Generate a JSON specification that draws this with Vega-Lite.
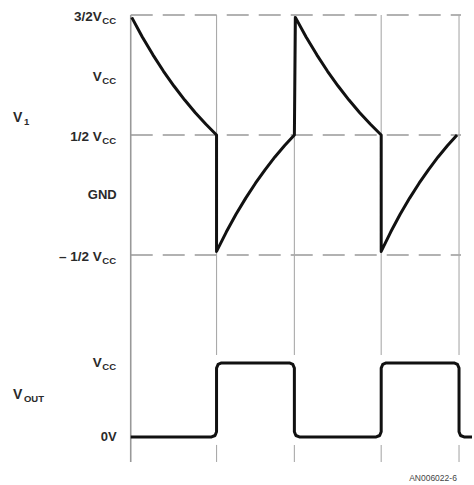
{
  "$schema": "https://vega.github.io/schema/vega-lite/v6.json",
  "width": 474,
  "height": 485,
  "autosize": {"type": "fit", "contains": "padding"},
  "padding": 0,
  "background": "white",
  "config": {"view": {"stroke": null}},
  "datasets": {
    "v1": [
      {"i": 1, "t": 1, "v": 1.48}, {"i": 2, "t": 11.625, "v": 1.317}, {"i": 3, "t": 22.25, "v": 1.168},
      {"i": 4, "t": 32.875, "v": 1.031}, {"i": 5, "t": 43.5, "v": 0.906}, {"i": 6, "t": 54.125, "v": 0.791},
      {"i": 7, "t": 64.75, "v": 0.685}, {"i": 8, "t": 75.375, "v": 0.589}, {"i": 9, "t": 86, "v": 0.5},
      {"i": 10, "t": 86, "v": -0.47}, {"i": 11, "t": 95.75, "v": -0.309}, {"i": 12, "t": 105.5, "v": -0.161},
      {"i": 13, "t": 115.25, "v": -0.026}, {"i": 14, "t": 125, "v": 0.098}, {"i": 15, "t": 134.75, "v": 0.212},
      {"i": 16, "t": 144.5, "v": 0.317}, {"i": 17, "t": 154.25, "v": 0.412}, {"i": 18, "t": 164, "v": 0.5},
      {"i": 19, "t": 165, "v": 1.48}, {"i": 20, "t": 175.75, "v": 1.317}, {"i": 21, "t": 186.5, "v": 1.168},
      {"i": 22, "t": 197.25, "v": 1.031}, {"i": 23, "t": 208, "v": 0.906}, {"i": 24, "t": 218.75, "v": 0.791},
      {"i": 25, "t": 229.5, "v": 0.685}, {"i": 26, "t": 240.25, "v": 0.589}, {"i": 27, "t": 251, "v": 0.5},
      {"i": 28, "t": 251, "v": -0.47}, {"i": 29, "t": 260.5, "v": -0.309}, {"i": 30, "t": 270, "v": -0.161},
      {"i": 31, "t": 279.5, "v": -0.026}, {"i": 32, "t": 289, "v": 0.098}, {"i": 33, "t": 298.5, "v": 0.212},
      {"i": 34, "t": 308, "v": 0.317}, {"i": 35, "t": 317.5, "v": 0.412}, {"i": 36, "t": 327, "v": 0.5}
    ],
    "vout": [
      {"i": 0, "t": 0, "v": 0}, {"i": 1, "t": 81, "v": 0}, {"i": 2, "t": 84.5, "v": 0.02},
      {"i": 3, "t": 86, "v": 0.07}, {"i": 4, "t": 86, "v": 0.93}, {"i": 5, "t": 87.5, "v": 0.98},
      {"i": 6, "t": 91, "v": 1}, {"i": 7, "t": 159, "v": 1}, {"i": 8, "t": 162.5, "v": 0.98},
      {"i": 9, "t": 164, "v": 0.93}, {"i": 10, "t": 164, "v": 0.07}, {"i": 11, "t": 165.5, "v": 0.02},
      {"i": 12, "t": 169, "v": 0}, {"i": 13, "t": 246, "v": 0}, {"i": 14, "t": 249.5, "v": 0.02},
      {"i": 15, "t": 251, "v": 0.07}, {"i": 16, "t": 251, "v": 0.93}, {"i": 17, "t": 252.5, "v": 0.98},
      {"i": 18, "t": 256, "v": 1}, {"i": 19, "t": 324, "v": 1}, {"i": 20, "t": 327.5, "v": 0.98},
      {"i": 21, "t": 329, "v": 0.93}, {"i": 22, "t": 329, "v": 0.07}, {"i": 23, "t": 330.5, "v": 0.02},
      {"i": 24, "t": 334, "v": 0}, {"i": 25, "t": 342, "v": 0}
    ],
    "levels": [{"level": 1.5}, {"level": 0.5}, {"level": -0.5}],
    "vlines": [
      {"t": 86, "top": 1.5, "bottom": -1.333}, {"t": 86, "top": -2.083, "bottom": -2.225},
      {"t": 164, "top": 1.5, "bottom": -1.333}, {"t": 164, "top": -2.083, "bottom": -2.225},
      {"t": 251, "top": 1.5, "bottom": -1.333}, {"t": 251, "top": -2.083, "bottom": -2.225},
      {"t": 329, "top": 1.5, "bottom": -1.333}, {"t": 329, "top": -2.083, "bottom": -2.225}
    ],
    "axisline": [{"t": 0, "top": 1.5, "bottom": -2.225}],
    "v1labels": [
      {"level": 1.5, "main": "3/2V", "sub": "CC"},
      {"level": 1, "main": "V", "sub": "CC"},
      {"level": 0.5, "main": "1/2 V", "sub": "CC"},
      {"level": -0.5, "main": "– 1/2 V", "sub": "CC"}
    ],
    "gnd": [{"level": 0, "main": "GND"}],
    "v1title": [{"level": 0.64, "main": "V", "sub": "1"}],
    "voutlabels": [{"level": 1, "main": "V", "sub": "CC"}],
    "zerolabel": [{"level": 0, "main": "0V"}],
    "vouttitle": [{"level": 0.57, "main": "V", "sub": "OUT"}],
    "footnote": [{"level": -0.554, "t": 279, "note": "AN006022-6"}]
  },
  "resolve": {"scale": {"y": "independent"}},
  "layer": [
    {
      "layer": [
        {
          "data": {"name": "levels"},
          "mark": {"type": "rule", "color": "#999999", "strokeWidth": 1.4, "strokeDash": [22, 10]},
          "encoding": {
            "x": {"datum": 0, "type": "quantitative", "scale": {"domain": [-131, 343], "nice": false, "zero": false}, "axis": null},
            "x2": {"datum": 331},
            "y": {"field": "level", "type": "quantitative", "scale": {"domain": [-2.417, 1.625], "nice": false, "zero": false}, "axis": null}
          }
        },
        {
          "data": {"name": "vlines"},
          "mark": {"type": "rule", "color": "#aaaaaa", "strokeWidth": 1.1},
          "encoding": {
            "x": {"field": "t", "type": "quantitative", "scale": {"domain": [-131, 343], "nice": false, "zero": false}, "axis": null},
            "y": {"field": "top", "type": "quantitative", "scale": {"domain": [-2.417, 1.625], "nice": false, "zero": false}, "axis": null},
            "y2": {"field": "bottom"}
          }
        },
        {
          "data": {"name": "axisline"},
          "mark": {"type": "rule", "color": "#999999", "strokeWidth": 1.6},
          "encoding": {
            "x": {"field": "t", "type": "quantitative", "scale": {"domain": [-131, 343], "nice": false, "zero": false}, "axis": null},
            "y": {"field": "top", "type": "quantitative", "scale": {"domain": [-2.417, 1.625], "nice": false, "zero": false}, "axis": null},
            "y2": {"field": "bottom"}
          }
        },
        {
          "data": {"name": "v1"},
          "mark": {"type": "line", "color": "#111111", "strokeWidth": 3, "strokeJoin": "round"},
          "encoding": {
            "x": {"field": "t", "type": "quantitative", "scale": {"domain": [-131, 343], "nice": false, "zero": false}, "axis": null},
            "y": {"field": "v", "type": "quantitative", "scale": {"domain": [-2.417, 1.625], "nice": false, "zero": false}, "axis": null},
            "order": {"field": "i", "type": "quantitative"}
          }
        },
        {
          "data": {"name": "v1labels"},
          "mark": {"type": "text", "align": "right", "baseline": "middle", "dy": 2, "font": "Liberation Sans", "fontWeight": "bold", "fontSize": 13.5, "color": "#2a2a2a"},
          "encoding": {
            "x": {"datum": -29, "type": "quantitative", "scale": {"domain": [-131, 343], "nice": false, "zero": false}, "axis": null},
            "y": {"field": "level", "type": "quantitative", "scale": {"domain": [-2.417, 1.625], "nice": false, "zero": false}, "axis": null},
            "text": {"field": "main"}
          }
        },
        {
          "data": {"name": "v1labels"},
          "mark": {"type": "text", "align": "left", "baseline": "middle", "dy": 6, "dx": 0.5, "font": "Liberation Sans", "fontWeight": "bold", "fontSize": 9.5, "color": "#2a2a2a"},
          "encoding": {
            "x": {"datum": -29, "type": "quantitative", "scale": {"domain": [-131, 343], "nice": false, "zero": false}, "axis": null},
            "y": {"field": "level", "type": "quantitative", "scale": {"domain": [-2.417, 1.625], "nice": false, "zero": false}, "axis": null},
            "text": {"field": "sub"}
          }
        },
        {
          "data": {"name": "gnd"},
          "mark": {"type": "text", "align": "right", "baseline": "middle", "font": "Liberation Sans", "fontWeight": "bold", "fontSize": 13, "color": "#2a2a2a"},
          "encoding": {
            "x": {"datum": -14, "type": "quantitative", "scale": {"domain": [-131, 343], "nice": false, "zero": false}, "axis": null},
            "y": {"field": "level", "type": "quantitative", "scale": {"domain": [-2.417, 1.625], "nice": false, "zero": false}, "axis": null},
            "text": {"field": "main"}
          }
        },
        {
          "data": {"name": "v1title"},
          "mark": {"type": "text", "align": "left", "baseline": "middle", "font": "Liberation Sans", "fontWeight": "bold", "fontSize": 14, "color": "#2a2a2a"},
          "encoding": {
            "x": {"datum": -118, "type": "quantitative", "scale": {"domain": [-131, 343], "nice": false, "zero": false}, "axis": null},
            "y": {"field": "level", "type": "quantitative", "scale": {"domain": [-2.417, 1.625], "nice": false, "zero": false}, "axis": null},
            "text": {"field": "main"}
          }
        },
        {
          "data": {"name": "v1title"},
          "mark": {"type": "text", "align": "left", "baseline": "middle", "dy": 4, "font": "Liberation Sans", "fontWeight": "bold", "fontSize": 9.5, "color": "#2a2a2a"},
          "encoding": {
            "x": {"datum": -107, "type": "quantitative", "scale": {"domain": [-131, 343], "nice": false, "zero": false}, "axis": null},
            "y": {"field": "level", "type": "quantitative", "scale": {"domain": [-2.417, 1.625], "nice": false, "zero": false}, "axis": null},
            "text": {"field": "sub"}
          }
        }
      ]
    },
    {
      "layer": [
        {
          "data": {"name": "vout"},
          "mark": {"type": "line", "color": "#111111", "strokeWidth": 3, "strokeJoin": "round"},
          "encoding": {
            "x": {"field": "t", "type": "quantitative", "scale": {"domain": [-131, 343], "nice": false, "zero": false}, "axis": null},
            "y": {"field": "v", "type": "quantitative", "scale": {"domain": [-0.649, 5.905], "nice": false, "zero": false}, "axis": null},
            "order": {"field": "i", "type": "quantitative"}
          }
        },
        {
          "data": {"name": "voutlabels"},
          "mark": {"type": "text", "align": "right", "baseline": "middle", "dy": 0, "font": "Liberation Sans", "fontWeight": "bold", "fontSize": 13.5, "color": "#2a2a2a"},
          "encoding": {
            "x": {"datum": -29, "type": "quantitative", "scale": {"domain": [-131, 343], "nice": false, "zero": false}, "axis": null},
            "y": {"field": "level", "type": "quantitative", "scale": {"domain": [-0.649, 5.905], "nice": false, "zero": false}, "axis": null},
            "text": {"field": "main"}
          }
        },
        {
          "data": {"name": "voutlabels"},
          "mark": {"type": "text", "align": "left", "baseline": "middle", "dy": 4, "dx": 0.5, "font": "Liberation Sans", "fontWeight": "bold", "fontSize": 9.5, "color": "#2a2a2a"},
          "encoding": {
            "x": {"datum": -29, "type": "quantitative", "scale": {"domain": [-131, 343], "nice": false, "zero": false}, "axis": null},
            "y": {"field": "level", "type": "quantitative", "scale": {"domain": [-0.649, 5.905], "nice": false, "zero": false}, "axis": null},
            "text": {"field": "sub"}
          }
        },
        {
          "data": {"name": "zerolabel"},
          "mark": {"type": "text", "align": "right", "baseline": "middle", "font": "Liberation Sans", "fontWeight": "bold", "fontSize": 13, "color": "#2a2a2a"},
          "encoding": {
            "x": {"datum": -14, "type": "quantitative", "scale": {"domain": [-131, 343], "nice": false, "zero": false}, "axis": null},
            "y": {"field": "level", "type": "quantitative", "scale": {"domain": [-0.649, 5.905], "nice": false, "zero": false}, "axis": null},
            "text": {"field": "main"}
          }
        },
        {
          "data": {"name": "vouttitle"},
          "mark": {"type": "text", "align": "left", "baseline": "middle", "font": "Liberation Sans", "fontWeight": "bold", "fontSize": 14, "color": "#2a2a2a"},
          "encoding": {
            "x": {"datum": -118, "type": "quantitative", "scale": {"domain": [-131, 343], "nice": false, "zero": false}, "axis": null},
            "y": {"field": "level", "type": "quantitative", "scale": {"domain": [-0.649, 5.905], "nice": false, "zero": false}, "axis": null},
            "text": {"field": "main"}
          }
        },
        {
          "data": {"name": "vouttitle"},
          "mark": {"type": "text", "align": "left", "baseline": "middle", "dy": 4, "font": "Liberation Sans", "fontWeight": "bold", "fontSize": 9.5, "color": "#2a2a2a"},
          "encoding": {
            "x": {"datum": -107, "type": "quantitative", "scale": {"domain": [-131, 343], "nice": false, "zero": false}, "axis": null},
            "y": {"field": "level", "type": "quantitative", "scale": {"domain": [-0.649, 5.905], "nice": false, "zero": false}, "axis": null},
            "text": {"field": "sub"}
          }
        },
        {
          "data": {"name": "footnote"},
          "mark": {"type": "text", "align": "left", "baseline": "middle", "clip": true, "font": "Liberation Sans", "fontSize": 8.5, "color": "#444444"},
          "encoding": {
            "x": {"field": "t", "type": "quantitative", "scale": {"domain": [-131, 343], "nice": false, "zero": false}, "axis": null},
            "y": {"field": "level", "type": "quantitative", "scale": {"domain": [-0.649, 5.905], "nice": false, "zero": false}, "axis": null},
            "text": {"field": "note"}
          }
        }
      ]
    }
  ]
}
